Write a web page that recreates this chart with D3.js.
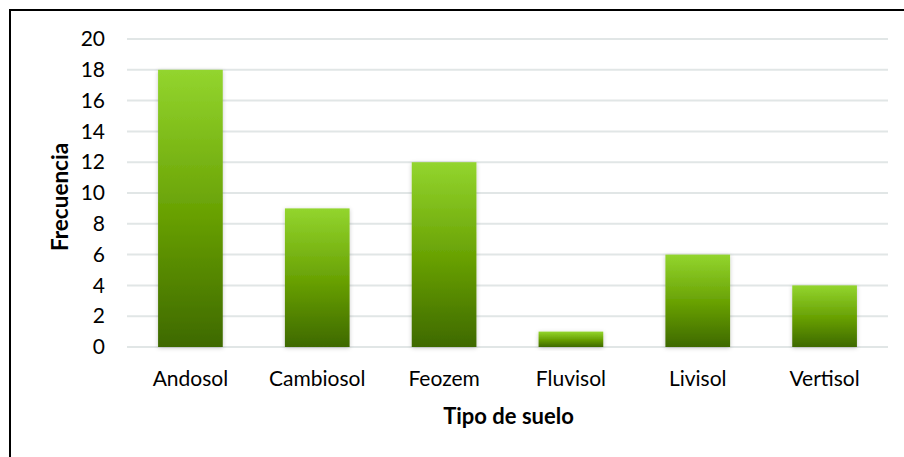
<!DOCTYPE html>
<html>
<head>
<meta charset="utf-8">
<script src="https://cdn.jsdelivr.net/npm/d3@7/dist/d3.min.js"></script>
<style>
  html, body { margin: 0; padding: 0; background: #fff; }
  svg text { font-family: Lato, "Open Sans", sans-serif; fill: #000; }
</style>
</head>
<body>
<svg id="chart" width="904" height="457"></svg>
<script>
// Soil types and how often each one was found
const categories = ["Andosol", "Cambiosol", "Feozem", "Fluvisol", "Livisol", "Vertisol"];
const frequencies = [18, 9, 12, 1, 6, 4];
const yTicks = [0, 2, 4, 6, 8, 10, 12, 14, 16, 18, 20];

const svg = d3.select("#chart");
const W = 904, H = 457;
const plot = { left: 127, right: 888, top: 39, bottom: 347 };

// Outer frame
svg.append("rect")
  .attr("x", 10).attr("y", 10)
  .attr("width", W + 10).attr("height", H + 10)
  .attr("fill", "none").attr("stroke", "#000").attr("stroke-width", 2);

const defs = svg.append("defs");
const grad = defs.append("linearGradient")
  .attr("id", "barFill").attr("x1", 0).attr("y1", 0).attr("x2", 0).attr("y2", 1);
grad.append("stop").attr("offset", "0%").attr("stop-color", "#93d52e");
grad.append("stop").attr("offset", "50%").attr("stop-color", "#6aa305");
grad.append("stop").attr("offset", "100%").attr("stop-color", "#3e6900");

const shadow = defs.append("filter").attr("id", "barShadow")
  .attr("x", "-20%").attr("y", "-20%").attr("width", "140%").attr("height", "140%");
shadow.append("feDropShadow")
  .attr("dx", 0).attr("dy", 1).attr("stdDeviation", 2)
  .attr("flood-color", "#000").attr("flood-opacity", 0.22);

const x = d3.scaleBand()
  .domain(categories)
  .range([plot.left, plot.right])
  .paddingInner(0.49).paddingOuter(0.245);

const y = d3.scaleLinear()
  .domain([0, 20])
  .range([plot.bottom, plot.top]);

// Horizontal gridlines
svg.append("g")
  .selectAll("line")
  .data(yTicks)
  .join("line")
  .attr("x1", plot.left).attr("x2", plot.right)
  .attr("y1", d => y(d)).attr("y2", d => y(d))
  .attr("stroke", "#e1e6e6").attr("stroke-width", 2);

// Y axis labels
const yAxis = svg.append("g")
  .attr("transform", `translate(${plot.left - 22},0)`)
  .call(d3.axisLeft(y).tickValues(yTicks).tickSize(0).tickPadding(0));
yAxis.select(".domain").remove();
yAxis.selectAll("text")
  .attr("font-size", 21).attr("font-family", "Lato, sans-serif").attr("fill", "#000");

// Bars
svg.append("g")
  .selectAll("rect")
  .data(frequencies)
  .join("rect")
  .attr("x", (d, i) => x(categories[i]))
  .attr("y", d => y(d))
  .attr("width", x.bandwidth())
  .attr("height", d => y(0) - y(d))
  .attr("fill", "url(#barFill)")
  .attr("filter", "url(#barShadow)");

// Category labels
const xAxis = svg.append("g")
  .attr("transform", `translate(0,${plot.bottom + 24})`)
  .call(d3.axisBottom(x).tickSize(0).tickPadding(0));
xAxis.select(".domain").remove();
xAxis.selectAll("text")
  .attr("font-size", 21).attr("font-family", "Lato, sans-serif").attr("fill", "#000");

// Axis titles
svg.append("text")
  .attr("x", (plot.left + plot.right) / 2 + 1)
  .attr("y", 424)
  .attr("text-anchor", "middle")
  .attr("font-size", 22).attr("font-weight", "bold")
  .text("Tipo de suelo");

svg.append("text")
  .attr("transform", "translate(68,197) rotate(-90)")
  .attr("text-anchor", "middle")
  .attr("font-size", 22.5).attr("font-weight", "bold")
  .text("Frecuencia");
</script>
</body>
</html>
